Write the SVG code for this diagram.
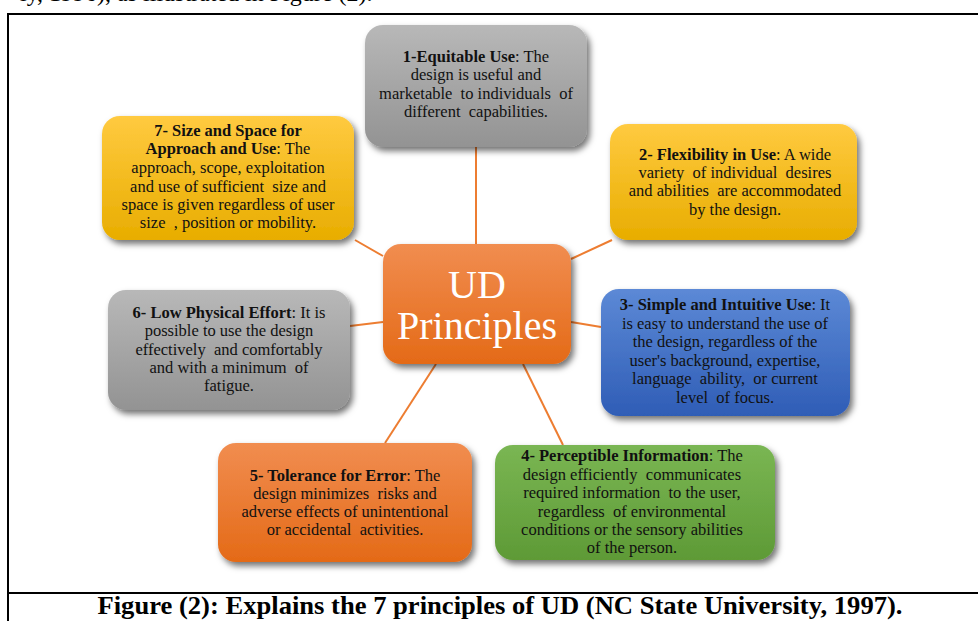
<svg xmlns="http://www.w3.org/2000/svg" width="978" height="621" viewBox="0 0 978 621">
<defs>
<style>
.t{font-family:"Liberation Serif","Times New Roman",serif;font-size:16.5px;fill:#111;text-anchor:middle;white-space:pre}
.b{font-weight:bold}
.c{stroke:#ED7D31;stroke-width:2;fill:none}
.cap{font-family:"Liberation Serif","Times New Roman",serif;font-size:25px;font-weight:bold;fill:#000;text-anchor:middle}
.top{font-family:"Liberation Serif","Times New Roman",serif;font-size:24px;fill:#000}
</style>
<filter id="sh" x="-10%" y="-10%" width="125%" height="130%">
<feDropShadow dx="3" dy="4" stdDeviation="3" flood-color="#000" flood-opacity="0.55"/>
</filter>
<linearGradient id="gGray" x1="0" y1="0" x2="0" y2="1"><stop offset="0" stop-color="#B8B8B8"/><stop offset="1" stop-color="#939393"/></linearGradient>
<linearGradient id="gGold" x1="0" y1="0" x2="0" y2="1"><stop offset="0" stop-color="#FFCA40"/><stop offset="1" stop-color="#E8AD00"/></linearGradient>
<linearGradient id="gBlue" x1="0" y1="0" x2="0" y2="1"><stop offset="0" stop-color="#5C89D6"/><stop offset="1" stop-color="#2F5DB6"/></linearGradient>
<linearGradient id="gOrange" x1="0" y1="0" x2="0" y2="1"><stop offset="0" stop-color="#F18D50"/><stop offset="1" stop-color="#E46A17"/></linearGradient>
<linearGradient id="gGreen" x1="0" y1="0" x2="0" y2="1"><stop offset="0" stop-color="#7AB653"/><stop offset="1" stop-color="#5E9A36"/></linearGradient>
</defs>
<rect width="978" height="621" fill="#fff"/>
<text class="top" x="20" y="0.5">ly, 1996), as illustrated in Figure (2).</text>
<g id="frame" stroke="#000" stroke-width="2" fill="none">
<path d="M980 14 H8 V621"/>
<path d="M8 593 H980"/>
</g>
<g id="connectors">
<line class="c" x1="476" y1="147" x2="476" y2="244"/>
<line class="c" x1="571" y1="259" x2="612" y2="240"/>
<line class="c" x1="355" y1="240" x2="383" y2="256"/>
<line class="c" x1="350" y1="326" x2="383" y2="322"/>
<line class="c" x1="571" y1="322" x2="601" y2="327"/>
<line class="c" x1="436" y1="364" x2="385" y2="443"/>
<line class="c" x1="523" y1="364" x2="563" y2="445"/>
</g>
<g id="node1">
<rect x="365" y="25" width="222" height="122" rx="18" fill="url(#gGray)" filter="url(#sh)"/>
<text class="t" x="476" y="62"><tspan class="b">1-Equitable Use</tspan>: The</text>
<text class="t" x="476" y="80">design is useful and</text>
<text class="t" x="476" y="99">marketable  to individuals  of</text>
<text class="t" x="476" y="117">different  capabilities.</text>
</g>
<g id="node2">
<rect x="610" y="124" width="247" height="116" rx="18" fill="url(#gGold)" filter="url(#sh)"/>
<text class="t" x="735" y="160"><tspan class="b">2- Flexibility in Use</tspan>: A wide</text>
<text class="t" x="735" y="178">variety  of individual  desires</text>
<text class="t" x="735" y="196">and abilities  are accommodated</text>
<text class="t" x="735" y="215">by the design.</text>
</g>
<g id="node7">
<rect x="102" y="116" width="252" height="124" rx="18" fill="url(#gGold)" filter="url(#sh)"/>
<text class="t" x="228" y="136"><tspan class="b">7- Size and Space for</tspan></text>
<text class="t" x="228" y="154"><tspan class="b">Approach and Use</tspan>: The</text>
<text class="t" x="228" y="173">approach, scope, exploitation</text>
<text class="t" x="228" y="192">and use of sufficient  size and</text>
<text class="t" x="228" y="210">space is given regardless of user</text>
<text class="t" x="228" y="228">size  , position or mobility.</text>
</g>
<g id="center">
<rect x="383" y="244" width="188" height="120" rx="18" fill="url(#gOrange)" filter="url(#sh)"/>
<text x="477" y="298" font-family="Liberation Serif, Times New Roman, serif" font-size="40" fill="#fff" text-anchor="middle">UD</text>
<text x="477" y="339" font-family="Liberation Serif, Times New Roman, serif" font-size="40" fill="#fff" text-anchor="middle">Principles</text>
</g>
<g id="node6">
<rect x="108" y="290" width="242" height="120" rx="18" fill="url(#gGray)" filter="url(#sh)"/>
<text class="t" x="229" y="318"><tspan class="b">6- Low Physical Effort</tspan>: It is</text>
<text class="t" x="229" y="336">possible to use the design</text>
<text class="t" x="229" y="355">effectively  and comfortably</text>
<text class="t" x="229" y="373">and with a minimum  of</text>
<text class="t" x="229" y="391">fatigue.</text>
</g>
<g id="node3">
<rect x="601" y="289" width="249" height="127" rx="18" fill="url(#gBlue)" filter="url(#sh)"/>
<text class="t" x="725" y="310"><tspan class="b">3- Simple and Intuitive Use</tspan>: It</text>
<text class="t" x="725" y="329">is easy to understand the use of</text>
<text class="t" x="725" y="347">the design, regardless of the</text>
<text class="t" x="725" y="366">user's background, expertise,</text>
<text class="t" x="725" y="384">language  ability,  or current</text>
<text class="t" x="725" y="403">level  of focus.</text>
</g>
<g id="node5">
<rect x="218" y="443" width="254" height="119" rx="18" fill="url(#gOrange)" filter="url(#sh)"/>
<text class="t" x="345" y="481"><tspan class="b">5- Tolerance for Error</tspan>: The</text>
<text class="t" x="345" y="499">design minimizes  risks and</text>
<text class="t" x="345" y="517">adverse effects of unintentional</text>
<text class="t" x="345" y="535">or accidental  activities.</text>
</g>
<g id="node4">
<rect x="495" y="445" width="280" height="115" rx="18" fill="url(#gGreen)" filter="url(#sh)"/>
<text class="t" x="632" y="461"><tspan class="b">4- Perceptible Information</tspan>: The</text>
<text class="t" x="632" y="480">design efficiently  communicates</text>
<text class="t" x="632" y="498">required information  to the user,</text>
<text class="t" x="632" y="517">regardless  of environmental</text>
<text class="t" x="632" y="535">conditions or the sensory abilities</text>
<text class="t" x="632" y="553">of the person.</text>
</g>
<text class="cap" x="500" y="614" textLength="805" lengthAdjust="spacingAndGlyphs">Figure (2): Explains the 7 principles of UD (NC State University, 1997).</text>
</svg>
